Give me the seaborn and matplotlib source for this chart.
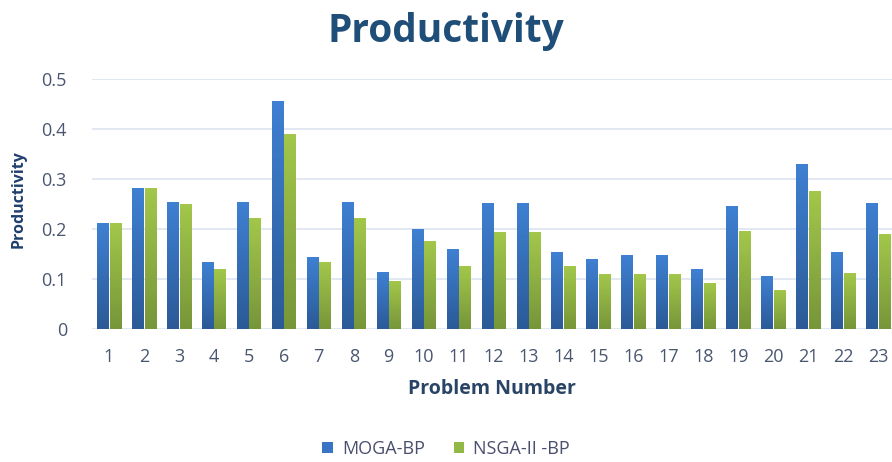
import numpy as np
import pandas as pd
import seaborn as sns
import matplotlib.pyplot as plt
from matplotlib.patches import Patch
from matplotlib.colors import LinearSegmentedColormap

# Values
problems = [str(i) for i in range(1, 24)]
moga_bp = [0.211, 0.281, 0.253, 0.134, 0.253, 0.456, 0.144, 0.253, 0.113, 0.200,
           0.159, 0.252, 0.252, 0.154, 0.140, 0.147, 0.147, 0.119, 0.245, 0.105,
           0.329, 0.154, 0.252]
nsga2_bp = [0.211, 0.281, 0.250, 0.120, 0.222, 0.390, 0.134, 0.222, 0.096, 0.176,
            0.126, 0.193, 0.193, 0.126, 0.109, 0.109, 0.109, 0.091, 0.196, 0.077,
            0.276, 0.112, 0.189]
methods = ["MOGA-BP", "NSGA-II -BP"]
yticks = [0, 0.1, 0.2, 0.3, 0.4, 0.5]
ytick_labels = ["0", "0.1", "0.2", "0.3", "0.4", "0.5"]

df = pd.DataFrame({
    "Problem": problems * 2,
    "Productivity": moga_bp + nsga2_bp,
    "Method": [methods[0]] * len(problems) + [methods[1]] * len(problems),
})

sns.set_style("white")
plt.rcParams['font.family'] = ['Open Sans', 'DejaVu Sans']

palette = {"MOGA-BP": "#3A74C4", "NSGA-II -BP": "#92B945"}
grad = {
    "MOGA-BP": LinearSegmentedColormap.from_list("b", ["#2B5A97", "#3F80D2"]),
    "NSGA-II -BP": LinearSegmentedColormap.from_list("g", ["#77963A", "#A2C74A"]),
}

fig = plt.figure(figsize=(8.92, 4.62), dpi=100)
ax = fig.add_axes([0.103, 0.288, 0.897, 0.541])

sns.barplot(data=df, x="Problem", y="Productivity", hue="Method", palette=palette,
            width=0.72, gap=0.1, legend=False, ax=ax, zorder=3)

# vertical gradient fill for each bar
n = len(problems)
for i, p in enumerate(ax.patches[:2 * n]):
    m = methods[i // n]
    x0, y0 = p.get_x(), p.get_y()
    w, h = p.get_width(), p.get_height()
    img = ax.imshow(np.linspace(0, 1, 64).reshape(-1, 1), cmap=grad[m], aspect="auto",
                    origin="lower", extent=(x0, x0 + w, y0, y0 + h), zorder=3)
    img.set_clip_path(p)
    p.set_facecolor("none")
    p.set_edgecolor((1, 1, 1, 0.35))
    p.set_linewidth(0.6)
ax.set_xlim(-0.49, 22.4)
ax.set_ylim(0, 0.5)

ax.set_yticks(yticks)
ax.set_yticklabels(ytick_labels)
ax.grid(axis="y", color="#DCE4F0", linewidth=1.2, zorder=0)
ax.set_axisbelow(True)
sns.despine(ax=ax, left=True, bottom=True, top=True, right=True)
ax.tick_params(axis="both", length=0, labelsize=13, colors="#4A5670")
ax.tick_params(axis="x", pad=14)
ax.tick_params(axis="y", pad=18)

ax.set_xlabel("Problem Number", fontsize=14, fontweight="bold", color="#2A4466",
              labelpad=9)
ax.set_ylabel("Productivity", fontsize=11.5, fontweight="bold", color="#1F3F6E")
ax.yaxis.set_label_coords(-0.081, 0.52)

fig.suptitle("Productivity", x=0.5, y=0.975, fontsize=28, fontweight="bold",
             color="#1F4E79")

handles = [Patch(facecolor=palette[m], edgecolor="none") for m in methods]
fig.legend(handles, methods, loc="center", bbox_to_anchor=(0.5, 0.028), ncol=2,
           frameon=False, fontsize=13, labelcolor="#4A4F6E", handlelength=0.6,
           handleheight=0.6, handletextpad=0.5, columnspacing=1.6)

plt.savefig("out.png", dpi=100)
